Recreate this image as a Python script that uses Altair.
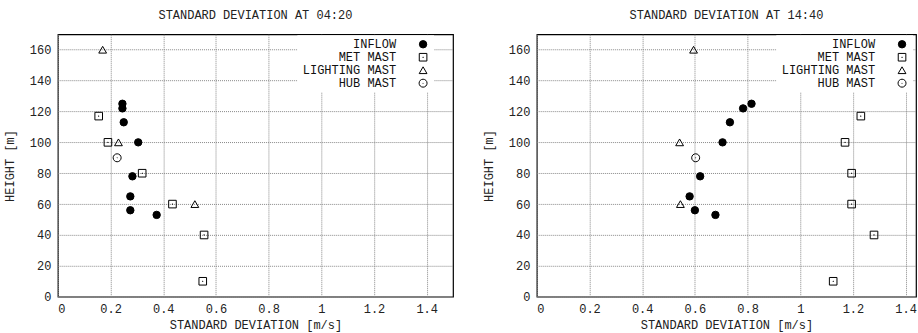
import altair as alt
import pandas as pd

SERIES = ["INFLOW", "MET MAST", "LIGHTING MAST", "HUB MAST"]

# Panel 1: 04:20
t1_inflow_x = [0.245, 0.245, 0.25, 0.305, 0.283, 0.275, 0.275, 0.375]
t1_inflow_y = [125, 122, 113, 100, 78, 65, 56, 53]
t1_met_x = [0.155, 0.19, 0.32, 0.435, 0.555, 0.55]
t1_met_y = [117, 100, 80, 60, 40, 10]
t1_light_x = [0.17, 0.23, 0.52]
t1_light_y = [160, 100, 60]
t1_hub_x = [0.225]
t1_hub_y = [90]

# Panel 2: 14:40
t2_inflow_x = [0.815, 0.783, 0.733, 0.705, 0.62, 0.58, 0.6, 0.678]
t2_inflow_y = [125, 122, 113, 100, 78, 65, 56, 53]
t2_met_x = [1.23, 1.17, 1.195, 1.195, 1.28, 1.125]
t2_met_y = [117, 100, 80, 60, 40, 10]
t2_light_x = [0.595, 0.542, 0.545]
t2_light_y = [160, 100, 60]
t2_hub_x = [0.603]
t2_hub_y = [90]

X_TICKS = [0, 0.2, 0.4, 0.6, 0.8, 1.0, 1.2, 1.4]
Y_TICKS = [0, 20, 40, 60, 80, 100, 120, 140, 160]

SQUARE_DOT = "M-1,-1H1V1H-1Z M-0.05,-0.05H0.05V0.05H-0.05Z"
CIRCLE_DOT = ("M-1,0A1,1 0 1,1 1,0A1,1 0 1,1 -1,0Z "
              "M-0.05,0A0.05,0.05 0 1,1 0.05,0A0.05,0.05 0 1,1 -0.05,0Z")
SHAPES = ["circle", SQUARE_DOT, "triangle-up", CIRCLE_DOT]
FILLS = ["#000000", "transparent", "transparent", "transparent"]
STROKES = ["#000000", "#000000", "#000000", "#000000"]
SIZES = [55, 64, 60, 52]

FONT = "Liberation Mono"


def frame(groups):
    rows = []
    for name, xs, ys in groups:
        for x, y in zip(xs, ys):
            rows.append({"series": name, "sd": x, "h": y})
    return pd.DataFrame(rows)


df1 = frame([
    ("INFLOW", t1_inflow_x, t1_inflow_y),
    ("MET MAST", t1_met_x, t1_met_y),
    ("LIGHTING MAST", t1_light_x, t1_light_y),
    ("HUB MAST", t1_hub_x, t1_hub_y),
])
df2 = frame([
    ("INFLOW", t2_inflow_x, t2_inflow_y),
    ("MET MAST", t2_met_x, t2_met_y),
    ("LIGHTING MAST", t2_light_x, t2_light_y),
    ("HUB MAST", t2_hub_x, t2_hub_y),
])


def panel(df, title, xmax, width, legend_pad_title):
    leg = alt.Legend(
        title=legend_pad_title, titleOrient="right", titleFont=FONT, titleFontSize=12,
        titlePadding=2,
        orient="none", legendX=240, legendY=1,
        fillColor="white", padding=3, labelAlign="right",
        labelOffset={"expr": "-33"}, symbolOffset=117,
        rowPadding=1, symbolStrokeColor="black", symbolStrokeWidth=1,
        labelFont=FONT, labelFontSize=12, labelColor="#111",
    )
    return alt.Chart(df).mark_point(
        strokeWidth=1, opacity=1
    ).encode(
        x=alt.X("sd:Q", scale=alt.Scale(domain=[0, xmax], nice=False, zero=True),
                axis=alt.Axis(values=X_TICKS, format="~g",
                              title="STANDARD DEVIATION [m/s]")),
        y=alt.Y("h:Q", scale=alt.Scale(domain=[0, 170], nice=False),
                axis=alt.Axis(values=Y_TICKS, title="HEIGHT [m]")),
        shape=alt.Shape("series:N", scale=alt.Scale(domain=SERIES, range=SHAPES), legend=leg),
        fill=alt.Fill("series:N", scale=alt.Scale(domain=SERIES, range=FILLS), legend=leg),
        stroke=alt.Stroke("series:N", scale=alt.Scale(domain=SERIES, range=STROKES), legend=leg),
        size=alt.Size("series:N", scale=alt.Scale(domain=SERIES, range=SIZES), legend=leg),
    ).properties(width=width, height=263, title=title)


left = panel(df1, "STANDARD DEVIATION AT 04:20", 1.5, 396, "   ")
# the right panel is cut by the page edge in the reference (visible part up to ~1.44)
right = panel(df2, "STANDARD DEVIATION AT 14:40", 1.4394, 380, " ")

chart = alt.hconcat(left, right, spacing=27).resolve_legend(
    shape="independent", fill="independent", size="independent",
    stroke="independent"
).properties(
    padding={"left": 2, "top": 8, "right": 0, "bottom": 0}
).configure_view(
    stroke="#000", strokeWidth=1.2
).configure_axis(
    labelFont=FONT, labelFontSize=12, labelColor="#222",
    titleFont=FONT, titleFontSize=12, titleFontWeight="normal", titleColor="#222",
    grid=True, gridColor="#888", gridDash=[1, 1], gridWidth=1, gridOpacity=1,
    ticks=False, domain=False,
).configure_axisY(
    labelPadding=7, titlePadding=13,
).configure_axisX(
    labelPadding=7, titlePadding=5,
).configure_title(
    font=FONT, fontSize=12, fontWeight="normal", color="#222", offset=12,
)

chart.save("out.html", embed_options={"renderer": "svg", "actions": False})
